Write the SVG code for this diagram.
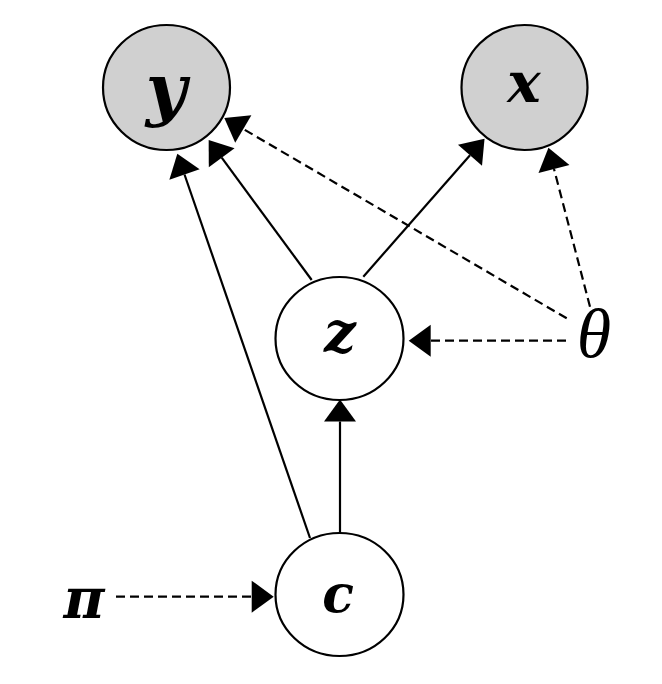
<svg xmlns="http://www.w3.org/2000/svg" width="662" height="684" viewBox="0 0 662 684">
<style>
.node{stroke:#000;stroke-width:2.2}
.obs{fill:#d0d0d0}
.lat{fill:#fff}
.lbl{font-family:"DejaVu Serif",serif;font-style:italic;font-weight:bold;font-size:56px;text-anchor:middle;fill:#000}
.par{font-family:"Liberation Serif",serif;font-style:italic;font-size:70px;text-anchor:middle;fill:#000}
.e{stroke:#000;stroke-width:2.2;fill:none}
.d{stroke-dasharray:9 5}
</style>
<defs>
<marker id="ah" markerUnits="userSpaceOnUse" viewBox="0 -17 23 34" markerWidth="23" markerHeight="34" refX="0" refY="0" orient="auto" overflow="visible">
<path d="M0,-16 L22,0 L0,16 z" fill="#000"/>
</marker>
</defs>
<rect width="662" height="684" fill="#fff"/>
<g id="connectors">
<line class="e" x1="310" y1="538" x2="184.5" y2="174.5" marker-end="url(#ah)"/>
<line class="e" x1="311.7" y1="280" x2="221.7" y2="157.7" marker-end="url(#ah)"/>
<line class="e" x1="363.3" y1="276.7" x2="470" y2="155.3" marker-end="url(#ah)"/>
<line class="e" x1="340" y1="533" x2="340" y2="421.5" marker-end="url(#ah)"/>
<line class="e d" x1="566.7" y1="318.3" x2="243.3" y2="129" marker-end="url(#ah)"/>
<line class="e d" x1="590" y1="306.7" x2="554" y2="169" marker-end="url(#ah)"/>
<line class="e d" x1="566" y1="340.7" x2="430.7" y2="340.7" marker-end="url(#ah)"/>
<line class="e d" x1="116" y1="596.7" x2="251.7" y2="596.7" marker-end="url(#ah)"/>
</g>
<g id="node-y">
<ellipse class="node obs" cx="166.5" cy="87.5" rx="63.5" ry="62.5"/>
<text class="lbl" x="166" y="113" style="font-size:70px">y</text>
</g>
<g id="node-x">
<ellipse class="node obs" cx="524.5" cy="87.5" rx="63" ry="62.5"/>
<text class="lbl" x="524" y="102">x</text>
</g>
<g id="node-z">
<ellipse class="node lat" cx="339.5" cy="338.5" rx="64" ry="61.5"/>
<text class="lbl" x="340" y="352">z</text>
</g>
<g id="node-c">
<ellipse class="node lat" cx="339.5" cy="594.5" rx="64" ry="61.5"/>
<text class="lbl" x="338" y="612" style="font-size:52px">c</text>
</g>
<g id="param-theta">
<text class="par" x="594" y="357">θ</text>
</g>
<g id="param-pi">
<text class="lbl" x="84" y="618">π</text>
</g>
</svg>
